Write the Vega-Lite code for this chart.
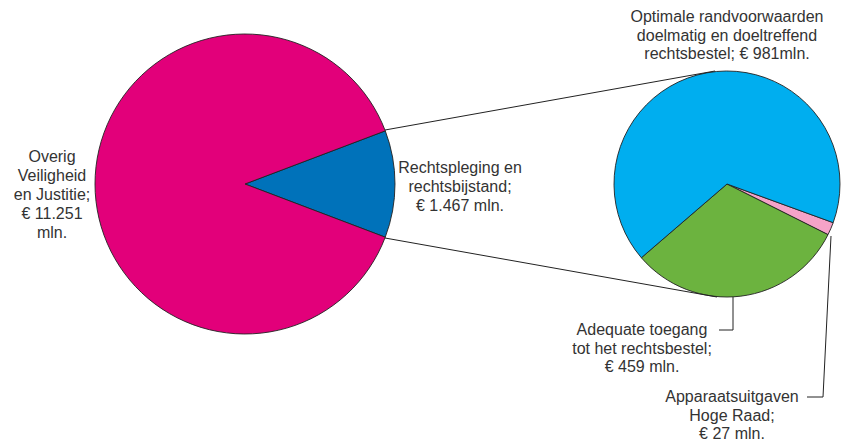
{
  "$schema": "https://vega.github.io/schema/vega-lite/v6.json",
  "width": 849,
  "height": 445,
  "padding": 0,
  "autosize": {"type": "none"},
  "background": "white",
  "config": {"view": {"stroke": null}},
  "datasets": {
    "big": [
      {"part": "Rechtspleging en rechtsbijstand", "value": 1467, "ord": 1, "label": "Rechtspleging en|rechtsbijstand;|€ 1.467 mln."},
      {"part": "Overig Veiligheid en Justitie", "value": 11251, "ord": 2, "label": "Overig|Veiligheid|en Justitie;|€ 11.251|mln."}
    ],
    "small": [
      {"part": "Apparaatsuitgaven Hoge Raad", "value": 27, "ord": 1, "label": "Apparaatsuitgaven|Hoge Raad;|€ 27 mln."},
      {"part": "Adequate toegang tot het rechtsbestel", "value": 459, "ord": 2, "label": "Adequate toegang|tot het rechtsbestel;|€ 459 mln."},
      {"part": "Optimale randvoorwaarden doelmatig en doeltreffend rechtsbestel", "value": 981, "ord": 3, "label": "Optimale randvoorwaarden|doelmatig en doeltreffend|rechtsbestel; € 981mln."}
    ],
    "one": [{"k": 1}]
  },
  "layer": [
    {
      "data": {"name": "big"},
      "mark": {"type": "arc", "radius": 150, "stroke": "#222", "strokeWidth": 0.9},
      "encoding": {
        "x": {"datum": 245, "type": "quantitative", "scale": {"domain": [0, 849], "nice": false, "zero": false}, "axis": null},
        "y": {"datum": 184, "type": "quantitative", "scale": {"domain": [0, 445], "nice": false, "zero": false, "reverse": true}, "axis": null},
        "theta": {"field": "value", "type": "quantitative", "stack": true, "scale": {"range": [1.2086, 7.4918]}},
        "order": {"field": "ord", "type": "quantitative"},
        "color": {
          "field": "part", "type": "nominal", "legend": null,
          "scale": {
            "domain": ["Rechtspleging en rechtsbijstand", "Overig Veiligheid en Justitie", "Apparaatsuitgaven Hoge Raad", "Adequate toegang tot het rechtsbestel", "Optimale randvoorwaarden doelmatig en doeltreffend rechtsbestel"],
            "range": ["#0072BA", "#E2007A", "#F5A3C8", "#6CB33F", "#00AEEF"]
          }
        }
      }
    },
    {
      "data": {"name": "small"},
      "mark": {"type": "arc", "radius": 113, "stroke": "#222", "strokeWidth": 0.9},
      "encoding": {
        "x": {"datum": 727, "type": "quantitative"},
        "y": {"datum": 184, "type": "quantitative"},
        "theta": {"field": "value", "type": "quantitative", "stack": true, "scale": {"range": [1.92, 8.2032]}},
        "order": {"field": "ord", "type": "quantitative"},
        "color": {"field": "part", "type": "nominal", "legend": null}
      }
    },
    {
      "data": {"name": "one"},
      "mark": {"type": "rule", "color": "#222", "strokeWidth": 1},
      "encoding": {"x": {"datum": 385, "type": "quantitative"}, "y": {"datum": 130, "type": "quantitative"}, "x2": {"datum": 715}, "y2": {"datum": 71}}
    },
    {
      "data": {"name": "one"},
      "mark": {"type": "rule", "color": "#222", "strokeWidth": 1},
      "encoding": {"x": {"datum": 385, "type": "quantitative"}, "y": {"datum": 238, "type": "quantitative"}, "x2": {"datum": 717}, "y2": {"datum": 297}}
    },
    {
      "data": {"name": "one"},
      "mark": {"type": "rule", "color": "#222", "strokeWidth": 1},
      "encoding": {"x": {"datum": 733, "type": "quantitative"}, "y": {"datum": 297, "type": "quantitative"}, "x2": {"datum": 733}, "y2": {"datum": 330}}
    },
    {
      "data": {"name": "one"},
      "mark": {"type": "rule", "color": "#222", "strokeWidth": 1},
      "encoding": {"x": {"datum": 719, "type": "quantitative"}, "y": {"datum": 330, "type": "quantitative"}, "x2": {"datum": 733}, "y2": {"datum": 330}}
    },
    {
      "data": {"name": "one"},
      "mark": {"type": "rule", "color": "#222", "strokeWidth": 1},
      "encoding": {"x": {"datum": 831, "type": "quantitative"}, "y": {"datum": 236, "type": "quantitative"}, "x2": {"datum": 823}, "y2": {"datum": 397}}
    },
    {
      "data": {"name": "one"},
      "mark": {"type": "rule", "color": "#222", "strokeWidth": 1},
      "encoding": {"x": {"datum": 807, "type": "quantitative"}, "y": {"datum": 397, "type": "quantitative"}, "x2": {"datum": 823}, "y2": {"datum": 397}}
    },
    {
      "data": {"name": "big"},
      "transform": [{"filter": "datum.ord == 2"}],
      "mark": {"type": "text", "font": "Liberation Sans", "fontSize": 16, "color": "#333", "lineBreak": "|", "lineHeight": 19, "align": "center", "baseline": "middle"},
      "encoding": {"x": {"datum": 52, "type": "quantitative"}, "y": {"datum": 157, "type": "quantitative"}, "text": {"field": "label"}}
    },
    {
      "data": {"name": "big"},
      "transform": [{"filter": "datum.ord == 1"}],
      "mark": {"type": "text", "font": "Liberation Sans", "fontSize": 16, "color": "#333", "lineBreak": "|", "lineHeight": 19, "align": "center", "baseline": "middle"},
      "encoding": {"x": {"datum": 460, "type": "quantitative"}, "y": {"datum": 168, "type": "quantitative"}, "text": {"field": "label"}}
    },
    {
      "data": {"name": "small"},
      "transform": [{"filter": "datum.ord == 3"}],
      "mark": {"type": "text", "font": "Liberation Sans", "fontSize": 16, "color": "#333", "lineBreak": "|", "lineHeight": 18.5, "align": "center", "baseline": "middle"},
      "encoding": {"x": {"datum": 727, "type": "quantitative"}, "y": {"datum": 17, "type": "quantitative"}, "text": {"field": "label"}}
    },
    {
      "data": {"name": "small"},
      "transform": [{"filter": "datum.ord == 2"}],
      "mark": {"type": "text", "font": "Liberation Sans", "fontSize": 16, "color": "#333", "lineBreak": "|", "lineHeight": 18.5, "align": "center", "baseline": "middle"},
      "encoding": {"x": {"datum": 642, "type": "quantitative"}, "y": {"datum": 330, "type": "quantitative"}, "text": {"field": "label"}}
    },
    {
      "data": {"name": "small"},
      "transform": [{"filter": "datum.ord == 1"}],
      "mark": {"type": "text", "font": "Liberation Sans", "fontSize": 16, "color": "#333", "lineBreak": "|", "lineHeight": 18.5, "align": "center", "baseline": "middle"},
      "encoding": {"x": {"datum": 732, "type": "quantitative"}, "y": {"datum": 397, "type": "quantitative"}, "text": {"field": "label"}}
    }
  ],
  "resolve": {"scale": {"theta": "independent"}}
}
